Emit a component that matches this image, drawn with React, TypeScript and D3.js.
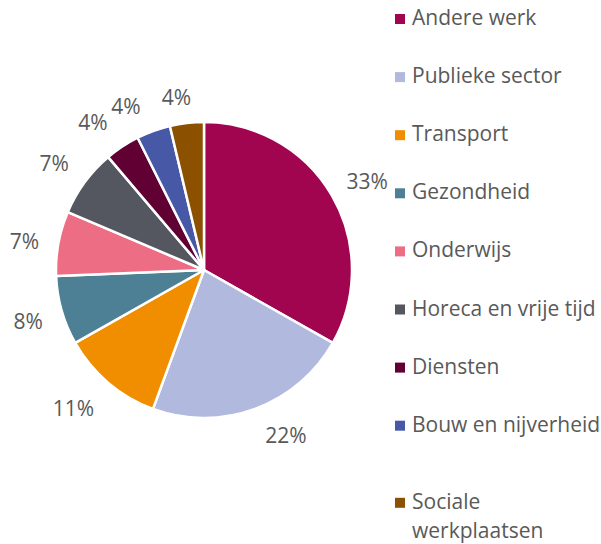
import React, { useEffect, useRef } from "react";
import * as d3 from "d3";

const categories = [
  "Andere werk",
  "Publieke sector",
  "Transport",
  "Gezondheid",
  "Onderwijs",
  "Horeca en vrije tijd",
  "Diensten",
  "Bouw en nijverheid",
  "Sociale werkplaatsen",
];
const values = [33.2, 22.4, 11.2, 7.55, 7.05, 7.4, 3.8, 3.7, 3.7];
const colors = [
  "#A10550",
  "#B1B9DE",
  "#F18E00",
  "#4D8094",
  "#EC6D84",
  "#54575F",
  "#600033",
  "#4658A6",
  "#8B5100",
];
const legendLines = [
  ["Andere werk"],
  ["Publieke sector"],
  ["Transport"],
  ["Gezondheid"],
  ["Onderwijs"],
  ["Horeca en vrije tijd"],
  ["Diensten"],
  ["Bouw en nijverheid"],
  ["Sociale", "werkplaatsen"],
];

const W = 601;
const H = 544;
const CX = 204;
const CY = 270;
const R = 148;
const FONT = "'Open Sans', sans-serif";
const FS = 21;
const TEXT = "#595959";

// label layout adjustments (degrees, px) emulating the spreadsheet's label spreading
const LABEL_ANGLE_NUDGE = [1.6, -6.3, 3.1, -0.3, -1.2, -0.9, -3.4, -5.4, -2.4];
const LABEL_RADIUS_NUDGE = [2, 0, 6, -1, -2, 0, 1, -2, -9];

export default function App() {
  const ref = useRef<SVGSVGElement>(null);
  useEffect(() => {
    const svg = d3.select(ref.current);
    svg.selectAll("*").remove();
    const data = categories.map((c, i) => ({ c, v: values[i], col: colors[i], i }));
    const pie = d3.pie<any>().value((d) => d.v).sort(null);
    const arcs = pie(data);
    const arc = d3.arc<any>().innerRadius(0).outerRadius(R);
    const g = svg.append("g").attr("transform", `translate(${CX},${CY})`);
    g.selectAll("path")
      .data(arcs)
      .join("path")
      .attr("d", arc as any)
      .attr("fill", (d: any) => d.data.col)
      .attr("stroke", "#fff")
      .attr("stroke-width", 2.5)
      .attr("stroke-linejoin", "round");

    const total = d3.sum(values);
    arcs.forEach((a: any, i: number) => {
      const mid = (a.startAngle + a.endAngle) / 2 + (LABEL_ANGLE_NUDGE[i] * Math.PI) / 180;
      const ux = Math.sin(mid);
      const uy = -Math.cos(mid);
      const rr = R + 36 + LABEL_RADIUS_NUDGE[i];
      g.append("text")
        .attr("font-family", FONT)
        .attr("font-size", FS)
        .attr("fill", TEXT)
        .attr("text-anchor", "middle")
        .attr("dominant-baseline", "central")
        .attr("x", ux * rr)
        .attr("y", uy * rr)
        .text(`${Math.round((a.data.v / total) * 100)}%`);
    });

    const lg = svg.append("g");
    const rowStart = 25;
    const rowStep = 58.1;
    legendLines.forEach((lines, i) => {
      let base = rowStart + i * rowStep;
      if (lines.length > 1) base += 19;
      lg.append("rect")
        .attr("x", 395)
        .attr("y", base - 11)
        .attr("width", 10)
        .attr("height", 10)
        .attr("fill", colors[i]);
      lines.forEach((ln, j) => {
        lg.append("text")
          .attr("x", 412)
          .attr("y", base + j * 29)
          .attr("font-family", FONT)
          .attr("font-size", FS)
          .attr("fill", TEXT)
          .text(ln);
      });
    });
  }, []);
  return (
    <svg
      ref={ref}
      width={W}
      height={H}
      style={{ position: "absolute", left: 0, top: 0, background: "#fff" }}
    />
  );
}
